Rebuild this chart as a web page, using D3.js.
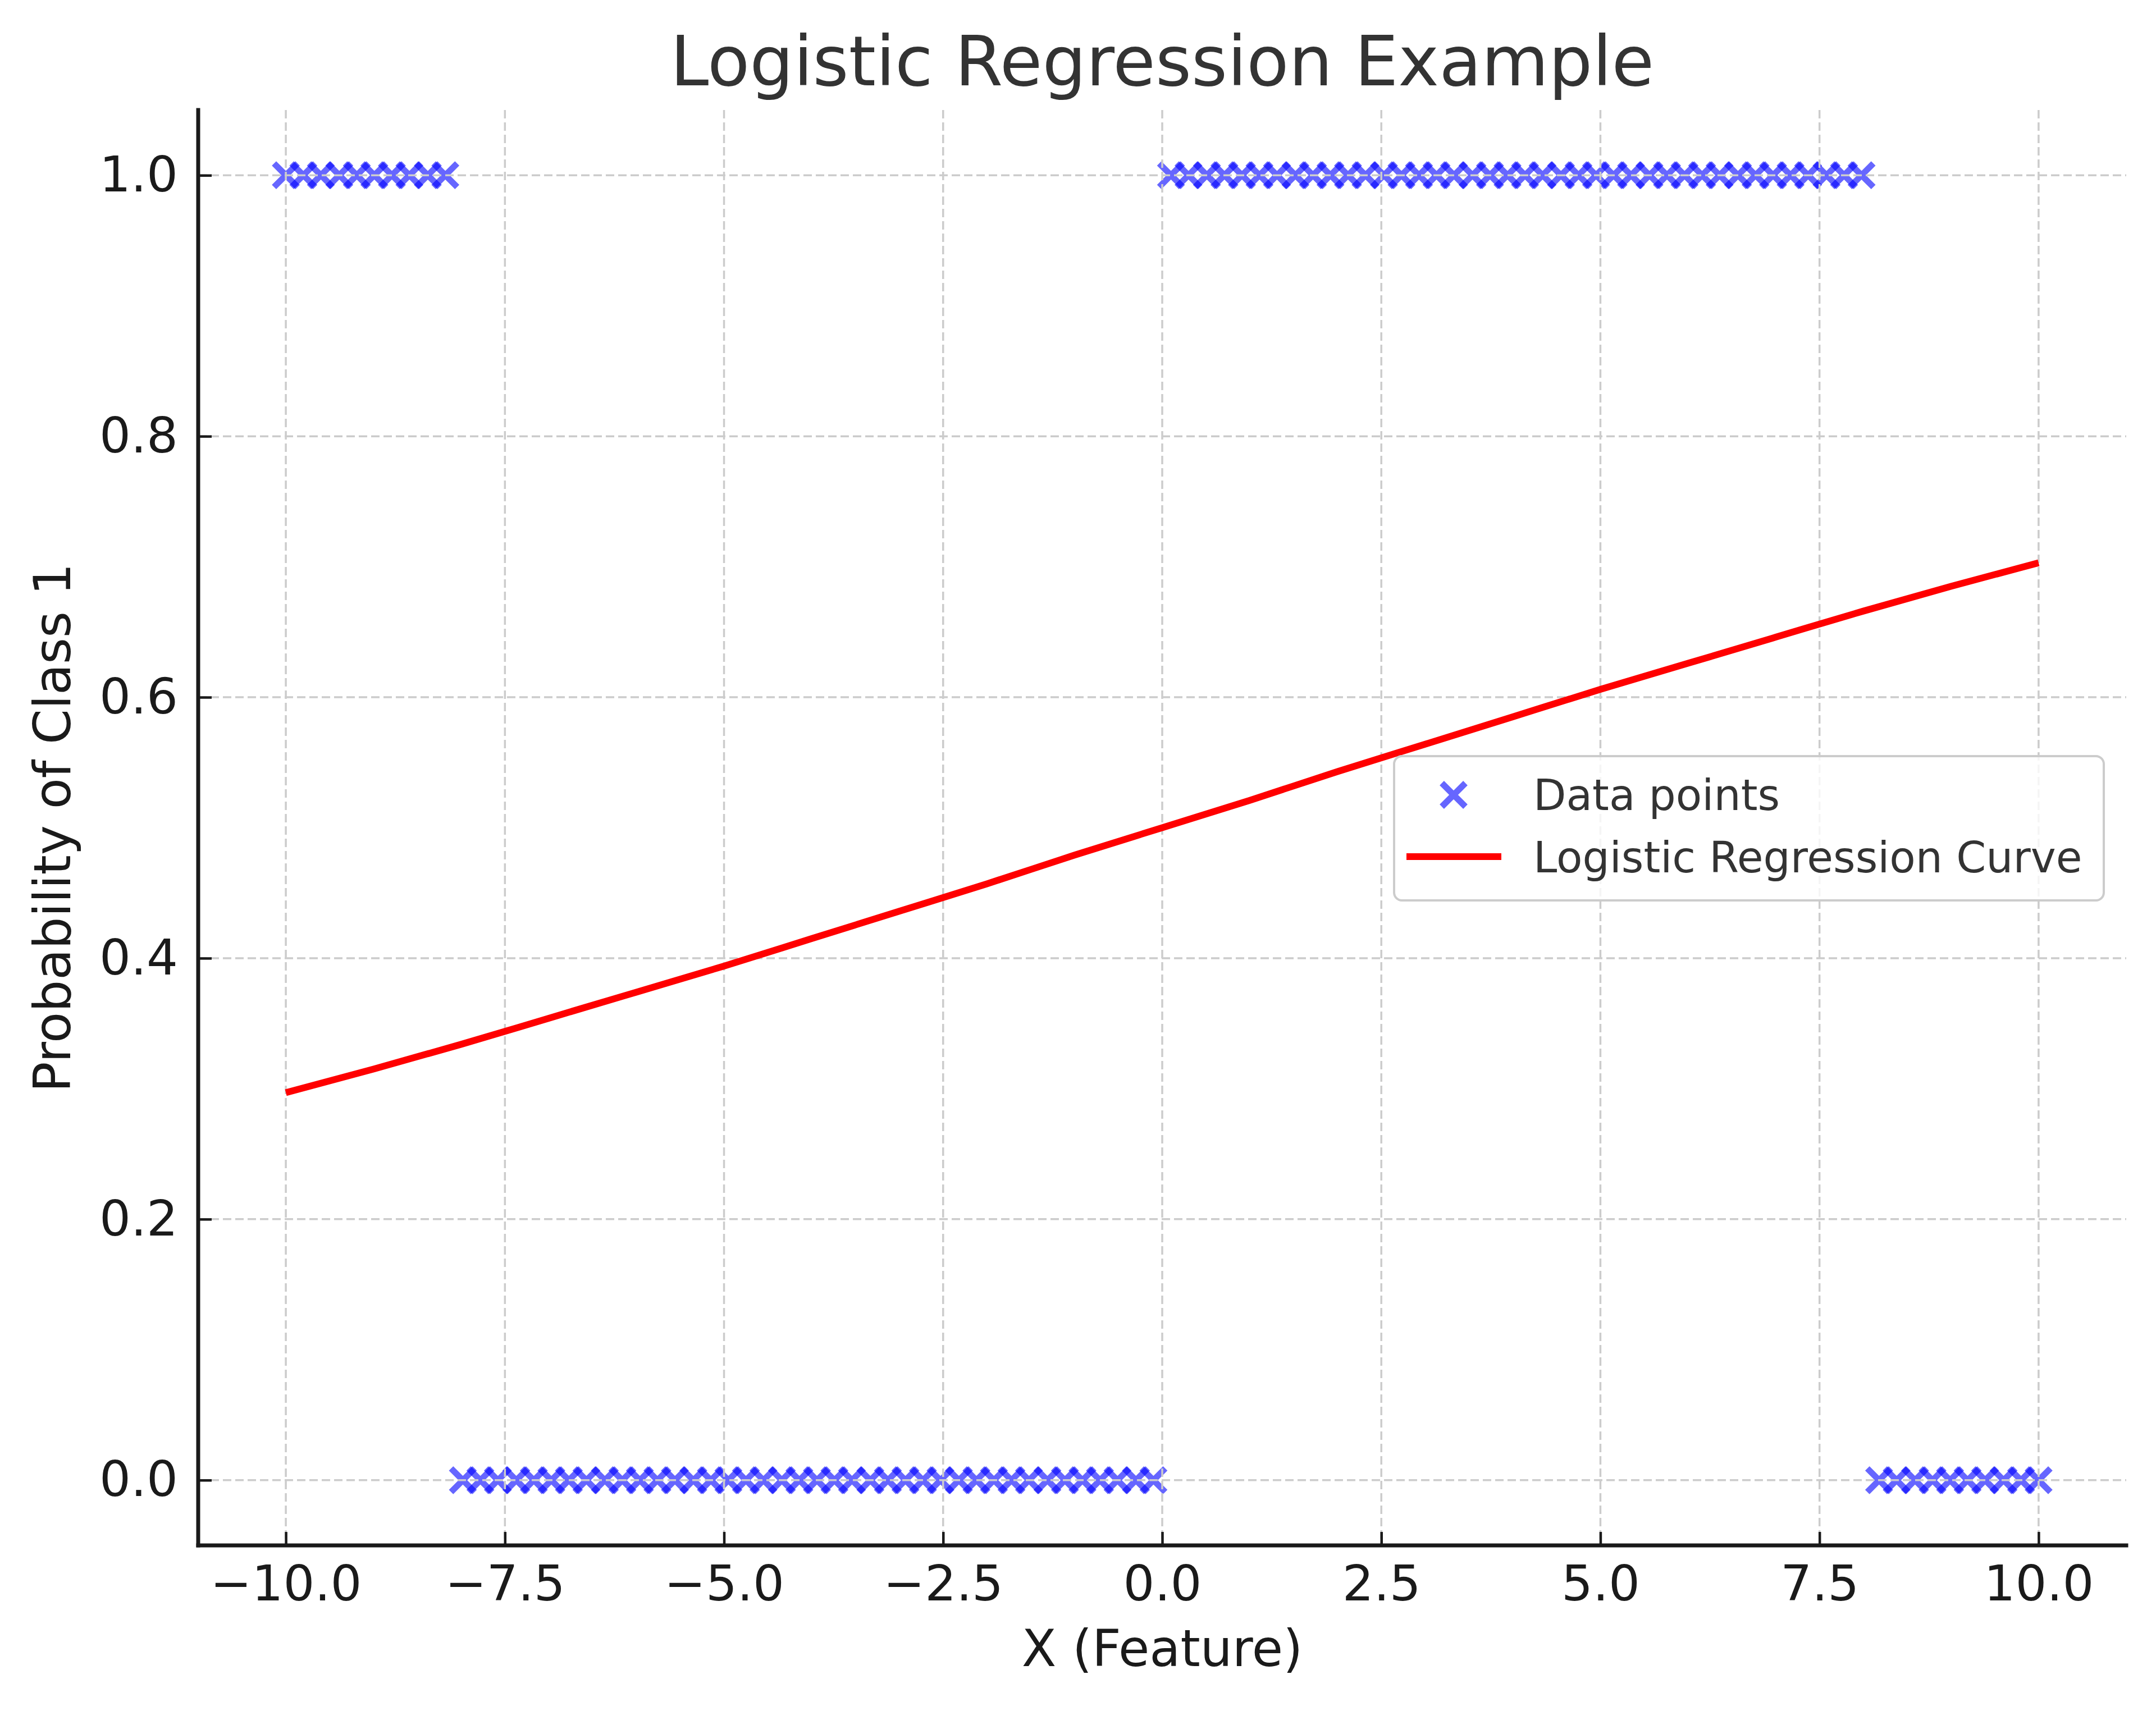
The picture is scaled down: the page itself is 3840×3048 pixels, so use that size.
<!DOCTYPE html>
<html>
<head>
<meta charset="utf-8">
<script src="https://cdn.jsdelivr.net/npm/d3@7"></script>
<style>
  body { margin: 0; background: #fff; }
  svg { display: block; font-family: "DejaVu Sans", sans-serif; }
</style>
</head>
<body>
<svg id="chart" width="3840" height="3048"></svg>
<script>
// точки выборки (признак X) и их классы
const xValues = [
  -10.00, -9.80, -9.60, -9.39, -9.19, -8.99, -8.79, -8.59, -8.38, -8.18,
  -7.98, -7.78, -7.58, -7.37, -7.17, -6.97, -6.77, -6.57, -6.36, -6.16,
  -5.96, -5.76, -5.56, -5.35, -5.15, -4.95, -4.75, -4.55, -4.34, -4.14,
  -3.94, -3.74, -3.54, -3.33, -3.13, -2.93, -2.73, -2.53, -2.32, -2.12,
  -1.92, -1.72, -1.52, -1.31, -1.11, -0.91, -0.71, -0.51, -0.30, -0.10,
  0.10, 0.30, 0.51, 0.71, 0.91, 1.11, 1.31, 1.52, 1.72, 1.92,
  2.12, 2.32, 2.53, 2.73, 2.93, 3.13, 3.33, 3.54, 3.74, 3.94,
  4.14, 4.34, 4.55, 4.75, 4.95, 5.15, 5.35, 5.56, 5.76, 5.96,
  6.16, 6.36, 6.57, 6.77, 6.97, 7.17, 7.37, 7.58, 7.78, 7.98,
  8.18, 8.38, 8.59, 8.79, 8.99, 9.19, 9.39, 9.60, 9.80, 10.00
];
const classLabels = [
  1, 1, 1, 1, 1, 1, 1, 1, 1, 1,
  0, 0, 0, 0, 0, 0, 0, 0, 0, 0,
  0, 0, 0, 0, 0, 0, 0, 0, 0, 0,
  0, 0, 0, 0, 0, 0, 0, 0, 0, 0,
  0, 0, 0, 0, 0, 0, 0, 0, 0, 0,
  1, 1, 1, 1, 1, 1, 1, 1, 1, 1,
  1, 1, 1, 1, 1, 1, 1, 1, 1, 1,
  1, 1, 1, 1, 1, 1, 1, 1, 1, 1,
  1, 1, 1, 1, 1, 1, 1, 1, 1, 1,
  0, 0, 0, 0, 0, 0, 0, 0, 0, 0
];

// кривая логистической регрессии
const curveX = [-10, -9, -8, -7, -6, -5, -4, -3, -2, -1, 0, 1, 2, 3, 4, 5, 6, 7, 8, 9, 10];
const curveP = [0.297, 0.315, 0.334, 0.354, 0.374, 0.394, 0.415, 0.436, 0.457, 0.479, 0.500,
                0.521, 0.543, 0.564, 0.585, 0.606, 0.626, 0.646, 0.666, 0.685, 0.703];

const xTicks = [-10, -7.5, -5, -2.5, 0, 2.5, 5, 7.5, 10];
const yTicks = [0, 0.2, 0.4, 0.6, 0.8, 1.0];

const svg = d3.select("#chart");

const area = { left: 353, right: 3787, top: 196, bottom: 2753 };

const scaleX = d3.scaleLinear().domain([-11, 11]).range([area.left, area.right]);
const scaleY = d3.scaleLinear().domain([-0.05, 1.05]).range([area.bottom, area.top]);

const fmt = d3.format(".1f");

// точки — крестики
const points = xValues.map((x, i) => ({ x: x, y: classLabels[i] }));
const s = 21;
const crossPath = (cx, cy) =>
  `M${cx - s},${cy - s}L${cx + s},${cy + s}M${cx - s},${cy + s}L${cx + s},${cy - s}`;

svg.append("g")
  .selectAll("path")
  .data(points)
  .enter()
  .append("path")
  .attr("d", d => crossPath(scaleX(d.x), scaleY(d.y)))
  .style("fill", "none")
  .style("stroke", "blue")
  .style("stroke-opacity", 0.6)
  .style("stroke-width", 11);

// сетка поверх точек
const grid = svg.append("g");
grid.selectAll(".gx")
  .data(xTicks)
  .enter()
  .append("line")
  .attr("x1", d => scaleX(d)).attr("x2", d => scaleX(d))
  .attr("y1", area.top).attr("y2", area.bottom);
grid.selectAll(".gy")
  .data(yTicks)
  .enter()
  .append("line")
  .attr("y1", d => scaleY(d)).attr("y2", d => scaleY(d))
  .attr("x1", area.left).attr("x2", area.right);
grid.selectAll("line")
  .style("stroke", "#cccccc")
  .style("stroke-width", 3.5)
  .style("stroke-dasharray", "15,7");

// красная кривая
const lineGenerator = d3.line()
  .x((d, i) => scaleX(curveX[i]))
  .y(d => scaleY(d))
  .curve(d3.curveMonotoneX);

svg.append("path")
  .attr("d", lineGenerator(curveP))
  .style("fill", "none")
  .style("stroke", "red")
  .style("stroke-width", 12);

// оси
const axisX = d3.axisBottom(scaleX)
  .tickValues(xTicks)
  .tickFormat(fmt)
  .tickSizeInner(-24)
  .tickSizeOuter(0)
  .tickPadding(36);

const axisY = d3.axisLeft(scaleY)
  .tickValues(yTicks)
  .tickFormat(fmt)
  .tickSizeInner(-24)
  .tickSizeOuter(0)
  .tickPadding(36);

const gx = svg.append("g")
  .attr("transform", `translate(0, ${area.bottom})`)
  .call(axisX);
const gy = svg.append("g")
  .attr("transform", `translate(${area.left}, 0)`)
  .call(axisY);

[gx, gy].forEach(g => {
  g.select(".domain").remove();
  g.selectAll(".tick line").style("stroke", "#1a1a1a").style("stroke-width", 4.5);
  g.selectAll(".tick text")
    .style("font-family", "DejaVu Sans")
    .style("font-size", "88px")
    .style("fill", "#1a1a1a");
});

// спайны
svg.append("line")
  .attr("x1", area.left).attr("x2", area.left)
  .attr("y1", area.top).attr("y2", area.bottom)
  .style("stroke", "#1a1a1a").style("stroke-width", 7).style("stroke-linecap", "square");
svg.append("line")
  .attr("x1", area.left).attr("x2", area.right)
  .attr("y1", area.bottom).attr("y2", area.bottom)
  .style("stroke", "#1a1a1a").style("stroke-width", 7).style("stroke-linecap", "square");

// подписи
svg.append("text")
  .attr("x", (area.left + area.right) / 2)
  .attr("y", 152)
  .attr("text-anchor", "middle")
  .style("font-size", "123px")
  .style("fill", "#333333")
  .text("Logistic Regression Example");

svg.append("text")
  .attr("x", (area.left + area.right) / 2)
  .attr("y", 2968)
  .attr("text-anchor", "middle")
  .style("font-size", "90px")
  .style("fill", "#1a1a1a")
  .text("X (Feature)");

svg.append("text")
  .attr("transform", `translate(125, ${(area.top + area.bottom) / 2}) rotate(-90)`)
  .attr("text-anchor", "middle")
  .style("font-size", "90px")
  .style("fill", "#1a1a1a")
  .text("Probability of Class 1");

// легенда
const legend = svg.append("g").attr("transform", "translate(2483, 1347)");
legend.append("rect")
  .attr("width", 1264)
  .attr("height", 257)
  .attr("rx", 14)
  .style("fill", "white")
  .style("fill-opacity", 0.8)
  .style("stroke", "#cccccc")
  .style("stroke-width", 4);

legend.append("path")
  .attr("d", crossPath(106, 69))
  .style("fill", "none")
  .style("stroke", "blue")
  .style("stroke-opacity", 0.6)
  .style("stroke-width", 11);

legend.append("line")
  .attr("x1", 22).attr("x2", 191)
  .attr("y1", 179).attr("y2", 179)
  .style("stroke", "red")
  .style("stroke-width", 12);

legend.append("text")
  .attr("x", 248).attr("y", 96)
  .style("font-size", "76px")
  .style("fill", "#333333")
  .text("Data points");

legend.append("text")
  .attr("x", 248).attr("y", 207)
  .style("font-size", "76px")
  .style("fill", "#333333")
  .text("Logistic Regression Curve");
</script>
</body>
</html>
